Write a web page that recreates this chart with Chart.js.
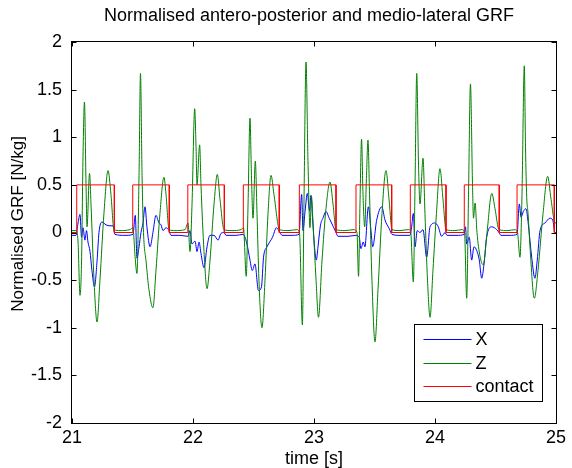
<!DOCTYPE html>
<html>
<head>
<meta charset="utf-8">
<script src="https://cdn.jsdelivr.net/npm/chart.js@4/dist/chart.umd.min.js"></script>
<style>
html,body{margin:0;padding:0;background:#fff;}
#wrap{width:572px;height:468px;}
</style>
</head>
<body>
<div id="wrap"><canvas id="c" width="572" height="468"></canvas></div>
<script>
// ---- data ----
const titleText = 'Normalised antero-posterior and medio-lateral GRF';
const xAxisLabel = 'time [s]';
const yAxisLabel = 'Normalised GRF [N/kg]';
const xTicks = [21, 22, 23, 24, 25];
const yTicks = [-2, -1.5, -1, -0.5, 0, 0.5, 1, 1.5, 2];
const seriesNames = ['X', 'Z', 'contact'];

const xTime = [21.000,21.033,21.050,21.066,21.079,21.091,21.107,21.120,21.132,21.149,21.165,21.186,21.207,21.223,21.248,21.281,21.314,21.339,21.355,21.438,
21.504,21.523,21.537,21.554,21.570,21.587,21.603,21.620,21.645,21.669,21.694,21.719,21.736,21.752,21.777,21.802,21.818,21.893,
21.959,21.975,21.992,22.017,22.033,22.050,22.066,22.091,22.116,22.140,22.174,22.207,22.231,22.256,22.273,22.355,
22.413,22.444,22.471,22.490,22.512,22.541,22.566,22.583,22.612,22.657,22.690,22.719,22.736,22.818,
22.876,22.898,22.909,22.926,22.945,22.963,22.975,22.989,23.000,23.019,23.033,23.054,23.074,23.099,23.126,23.160,23.182,23.198,23.281,
23.347,23.374,23.388,23.407,23.421,23.449,23.471,23.485,23.518,23.560,23.587,23.622,23.645,23.711,
23.793,23.806,23.821,23.835,23.853,23.876,23.901,23.931,23.959,24.000,24.027,24.055,24.083,24.099,24.182,
24.240,24.252,24.262,24.283,24.303,24.322,24.345,24.366,24.386,24.405,24.427,24.469,24.510,24.529,24.545,24.620,
24.678,24.697,24.711,24.730,24.752,24.771,24.799,24.826,24.845,24.868,24.909,24.950,24.973,24.992,25.000];
const xValues = [-0.03,-0.03,0.1,0.19,-0.05,0.05,-0.08,0.02,-0.1,-0.2,-0.4,-0.57,-0.3,0.0,0.11,0.08,0.07,0.07,-0.02,-0.03,
-0.02,0.18,-0.27,-0.15,0.0,0.1,0.27,0.05,-0.15,0.0,0.18,0.1,0.08,0.02,0.05,0.02,-0.03,-0.03,
-0.04,0.02,-0.12,-0.09,-0.2,-0.1,-0.22,-0.37,-0.15,-0.03,-0.03,-0.08,-0.01,0.0,-0.03,-0.03,
-0.02,-0.11,-0.29,-0.4,-0.33,-0.61,-0.57,-0.26,-0.15,-0.05,0.05,0.0,-0.03,-0.03,
-0.02,0.4,0.02,0.22,0.41,0.23,0.39,0.13,-0.08,-0.29,-0.15,0.08,0.15,0.22,0.15,0.06,0.0,-0.04,-0.04,
-0.03,-0.05,-0.17,-0.1,-0.15,0.27,0.02,-0.15,0.13,0.27,0.13,0.04,-0.02,-0.03,
-0.03,0.05,0.2,-0.15,0.02,0.0,0.03,-0.26,0.06,0.1,0.06,-0.04,0.0,-0.03,-0.03,
-0.02,0.06,-0.12,-0.05,-0.29,-0.15,-0.19,-0.29,-0.48,-0.33,-0.05,0.06,0.03,0.0,-0.03,-0.03,
-0.02,0.3,0.16,0.22,0.25,0.09,-0.26,-0.48,-0.29,0.02,0.1,0.15,0.13,0.0,0.0];

const zTime = [21.000,21.033,21.050,21.066,21.079,21.091,21.103,21.116,21.124,21.145,21.157,21.182,21.207,21.231,21.264,21.298,21.322,21.347,21.397,21.479,
21.504,21.521,21.537,21.554,21.566,21.579,21.591,21.612,21.636,21.669,21.694,21.727,21.760,21.777,21.802,21.851,21.934,
21.959,21.975,21.992,22.014,22.025,22.033,22.055,22.066,22.091,22.116,22.140,22.174,22.201,22.223,22.256,22.322,22.397,
22.417,22.440,22.455,22.471,22.483,22.496,22.515,22.529,22.545,22.570,22.595,22.620,22.645,22.669,22.715,22.785,22.860,
22.880,22.904,22.917,22.934,22.950,22.967,22.979,22.992,23.017,23.037,23.066,23.099,23.132,23.157,23.182,23.256,23.331,
23.355,23.368,23.380,23.393,23.405,23.419,23.434,23.446,23.459,23.479,23.504,23.529,23.562,23.595,23.620,23.645,23.711,23.777,
23.798,23.821,23.835,23.849,23.864,23.876,23.901,23.917,23.938,23.959,23.983,24.012,24.041,24.066,24.091,24.165,24.223,
24.244,24.262,24.277,24.293,24.310,24.318,24.331,24.347,24.372,24.399,24.430,24.469,24.496,24.529,24.603,24.661,
24.682,24.702,24.719,24.738,24.748,24.758,24.769,24.785,24.821,24.851,24.893,24.931,24.959,24.992,25.000];
const zValues = [0.02,0.02,-0.1,-0.66,-0.3,0.8,1.37,0.5,0.06,0.62,0.3,-0.5,-0.94,-0.5,0.2,0.65,0.4,0.03,0.02,0.03,
0.05,-0.25,-0.43,0.6,1.67,0.6,0.0,-0.3,-0.6,-0.79,-0.4,0.2,0.58,0.4,0.03,0.02,0.03,
0.1,-0.2,0.3,1.3,0.9,0.5,0.92,0.5,-0.2,-0.59,-0.3,0.3,0.61,0.35,0.03,0.02,0.03,
0.05,-0.46,0.3,1.2,0.6,0.15,0.75,0.2,-0.5,-1.0,-0.5,0.2,0.6,0.4,0.03,0.02,0.03,
0.0,-0.97,0.3,1.79,0.76,0.05,0.38,0.1,-0.5,-0.89,-0.3,0.25,0.53,0.3,0.03,0.02,0.03,
0.0,-0.46,0.3,0.98,0.4,0.06,0.6,0.97,0.4,-0.5,-1.15,-0.6,0.2,0.65,0.35,0.03,0.02,0.03,
0.02,-0.52,0.5,1.67,0.7,0.3,0.78,0.2,-0.5,-0.89,-0.4,0.2,0.67,0.35,0.03,0.02,0.03,
0.0,-0.69,0.4,1.56,0.5,0.15,0.31,0.0,-0.25,-0.34,0.0,0.41,0.25,0.03,0.02,0.03,
0.0,-0.26,0.4,1.75,0.9,0.37,0.2,-0.15,-0.69,-0.4,0.2,0.59,0.35,0.1,0.1];

const contactOn  = [21.039,21.502,21.957,22.416,22.879,23.347,23.796,24.242,24.678];
const contactOff = [21.350,21.804,22.259,22.713,23.182,23.642,24.091,24.531,24.986];
const contactLevel = 0.5;

// ---- build library data from the arrays ----
function pairs(ts, vs){ const out=[]; for(let i=0;i<Math.min(ts.length,vs.length);i++) out.push({x:ts[i],y:vs[i]}); return out; }
function contactPoints(){
  const out=[{x:xTicks[0],y:0}];
  for(let i=0;i<contactOn.length;i++){
    out.push({x:contactOn[i],y:0},{x:contactOn[i],y:contactLevel},{x:contactOff[i],y:contactLevel},{x:contactOff[i],y:0});
  }
  out.push({x:xTicks[xTicks.length-1],y:0});
  return out;
}

const FONT = '"Liberation Sans", Arial, Helvetica, sans-serif';
const COLORS = ['#0000ff', '#008000', '#ff0000'];

const matlabPlugin = {
  id: 'matlabFrame',
  afterDraw(chart){
    const ctx = chart.ctx, ca = chart.chartArea;
    const xs = chart.scales.x, ys = chart.scales.y;
    ctx.save();
    // title
    ctx.fillStyle = '#000';
    ctx.font = '18px ' + FONT;
    ctx.textAlign = 'center';
    ctx.textBaseline = 'middle';
    ctx.fillText(titleText, (ca.left + ca.right) / 2 - 5, 16);
    // y label
    ctx.save();
    ctx.font = '17px ' + FONT;
    ctx.translate(18, 224);
    ctx.rotate(-Math.PI / 2);
    ctx.fillText(yAxisLabel, 0, 0);
    ctx.restore();
    // box
    const L = Math.round(ca.left) - 0.5, R = Math.round(ca.right) + 0.5;
    const T = Math.round(ca.top) - 0.5, B = Math.round(ca.bottom) + 0.5;
    ctx.strokeStyle = '#000';
    ctx.lineWidth = 1;
    ctx.strokeRect(L, T, R - L, B - T);
    // inward ticks
    ctx.beginPath();
    xTicks.forEach(v => {
      const px = Math.round(xs.getPixelForValue(v)) + 0.5;
      ctx.moveTo(px, B); ctx.lineTo(px, B - 5);
      ctx.moveTo(px, T); ctx.lineTo(px, T + 5);
    });
    yTicks.forEach(v => {
      const py = Math.round(ys.getPixelForValue(v)) + 0.5;
      ctx.moveTo(L, py); ctx.lineTo(L + 5, py);
      ctx.moveTo(R, py); ctx.lineTo(R - 5, py);
    });
    ctx.stroke();
    // legend box
    const bw = 128, bh = 77;
    const bx = Math.round(ca.right) - 142 + 0.5, by = Math.round(ca.bottom) - 99 + 0.5;
    ctx.fillStyle = '#fff';
    ctx.fillRect(bx, by, bw, bh);
    ctx.strokeStyle = '#000';
    ctx.strokeRect(bx, by, bw, bh);
    const rows = [14, 38, 61];
    ctx.textAlign = 'left';
    ctx.textBaseline = 'middle';
    ctx.font = '18px ' + FONT;
    seriesNames.forEach((name, i) => {
      const ry = Math.round(by + rows[i]) + 0.5;
      ctx.strokeStyle = COLORS[i];
      ctx.lineWidth = 1;
      ctx.beginPath(); ctx.moveTo(bx + 9, ry); ctx.lineTo(bx + 57, ry); ctx.stroke();
      ctx.fillStyle = '#000';
      ctx.fillText(name, bx + 61, ry + 1);
    });
    ctx.restore();
  }
};

new Chart(document.getElementById('c'), {
  type: 'line',
  data: {
    datasets: [
      { label: seriesNames[0], data: pairs(xTime, xValues), borderColor: COLORS[0], borderWidth: 1, pointRadius: 0, cubicInterpolationMode: 'monotone', fill: false, order: 3 },
      { label: seriesNames[1], data: pairs(zTime, zValues), borderColor: COLORS[1], borderWidth: 1, pointRadius: 0, cubicInterpolationMode: 'monotone', fill: false, order: 2 },
      { label: seriesNames[2], data: contactPoints(), borderColor: COLORS[2], borderWidth: 1, pointRadius: 0, tension: 0, fill: false, order: 1 }
    ]
  },
  options: {
    responsive: false,
    animation: false,
    devicePixelRatio: 1,
    layout: { padding: { top: 42, right: 16, bottom: 0, left: 0 } },
    plugins: { legend: { display: false }, title: { display: false }, tooltip: { enabled: false } },
    scales: {
      x: {
        type: 'linear', min: xTicks[0], max: xTicks[xTicks.length-1],
        afterBuildTicks: s => { s.ticks = xTicks.map(v => ({ value: v })); },
        ticks: { color: '#000', font: { family: FONT, size: 18 }, padding: 4, maxRotation: 0, autoSkip: false, callback: v => String(v) },
        grid: { display: false, drawTicks: false },
        border: { display: false },
        title: { display: true, text: xAxisLabel, color: '#000', font: { family: FONT, size: 18, lineHeight: 1 }, padding: { top: 0, bottom: 0 } },
        afterFit: s => { s.height = 45; }
      },
      y: {
        type: 'linear', min: yTicks[0], max: yTicks[yTicks.length-1],
        afterBuildTicks: s => { s.ticks = yTicks.map(v => ({ value: v })); },
        ticks: { color: '#000', font: { family: FONT, size: 18 }, padding: 10, autoSkip: false, callback: v => String(v) },
        grid: { display: false, drawTicks: false },
        border: { display: false },
        title: { display: false },
        afterFit: s => { s.width = 72; }
      }
    }
  },
  plugins: [matlabPlugin]
});
</script>
</body>
</html>
